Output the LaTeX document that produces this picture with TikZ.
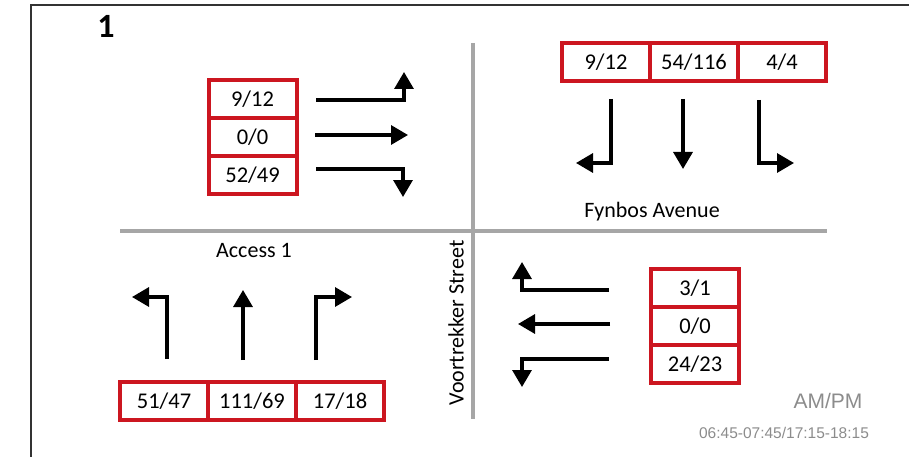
\documentclass[tikz,border=0pt]{standalone}
\usepackage{fontspec}
\setmainfont{Carlito}
\newfontfamily\arialfont{Liberation Sans}
\usetikzlibrary{arrows.meta}
\usetikzlibrary{positioning}

\definecolor{boxred}{RGB}{204,22,32}
\definecolor{roadgray}{RGB}{166,166,166}
\definecolor{notegray}{RGB}{140,140,140}

\tikzset{
  cell/.style={draw=boxred,line width=4pt,outer sep=0pt,inner sep=0pt,
    minimum width=88pt,minimum height=38pt,font=\fontsize{22.5}{26}\selectfont},
  move/.style={line width=3.3pt,-{Triangle[width=19pt,length=17pt]}},
  road/.style={draw=roadgray,line width=4pt},
  lbl/.style={font=\fontsize{22}{26}\selectfont}
}

\begin{document}
\begin{tikzpicture}[x=1pt,y=-1pt]
\useasboundingbox (0,0) rectangle (909,457);
% frame
\draw [black!80,line width=1.6pt] (31,457) |- (909,5);
\node (num) at (106,26) {\fontsize{34}{38}\selectfont\bfseries 1};
% roads
\draw [road] (473,43) -- (473,419);
\draw [road] (120,231) -- (827,231);
\node [lbl] (fynbos) at (652,212) {Fynbos Avenue};
\node [lbl] (access) at (254,250) {Access 1};
\node [lbl,rotate=90] (voor) at (456,323) {Voortrekker Street};
% west approach
\node [cell] (w1) at (252.5,99) {9/12};
\node [cell,below=0pt of w1] (w2) {0/0};
\node [cell,below=0pt of w2] (w3) {52/49};
\draw [move] (316,100) -| (404,72);
\draw [move] (315,135) -- (408,135);
\draw [move] (316,169) -| (403,197);
% north approach
\node [cell] (n2) at (694,62) {54/116};
\node [cell,left=0pt of n2] (n1) {9/12};
\node [cell,right=0pt of n2] (n3) {4/4};
\draw [move] (611,99) |- (576,163);
\draw [move] (683,99) -- (683,169);
\draw [move] (759,100) |- (794,163);
% south approach
\node [cell] (s2) at (252,401) {111/69};
\node [cell,left=0pt of s2] (s1) {51/47};
\node [cell,right=0pt of s2] (s3) {17/18};
\draw [move] (167,359) |- (132,297);
\draw [move] (243,360) -- (243,290);
\draw [move] (316,360) |- (352,297);
% east approach
\node [cell] (e2) at (695,326) {0/0};
\node [cell,above=0pt of e2] (e1) {3/1};
\node [cell,below=0pt of e2] (e3) {24/23};
\draw [move] (609,290) -| (522,262);
\draw [move] (610,324) -- (518,324);
\draw [move] (609,359) -| (522,387);
% period
\node [text=notegray,font=\arialfont\fontsize{21}{24}\selectfont] (period) at (828,401) {AM/PM};
\node [text=notegray,font=\arialfont\fontsize{15.5}{18}\selectfont] (hours) at (784,433) {06:45-07:45/17:15-18:15};
\end{tikzpicture}
\end{document}
